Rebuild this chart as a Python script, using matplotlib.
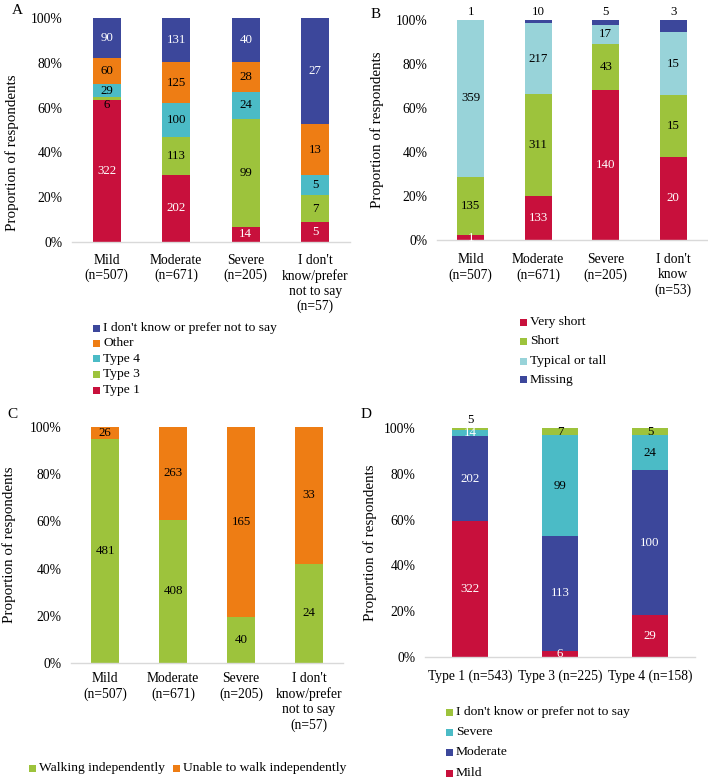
import matplotlib
matplotlib.use("Agg")
import matplotlib.pyplot as plt
from matplotlib.patches import Rectangle
from matplotlib.ticker import PercentFormatter
import numpy as np

W, H = 708, 782
plt.rcParams['font.family'] = ['Liberation Serif', 'DejaVu Serif']

RED = '#C8103C'
GREEN = '#9DC33C'
CYAN = '#4BBBC6'
ORANGE = '#EE7D14'
NAVY = '#3C479B'
LCYAN = '#98D3D9'

# ---------------- Data ----------------
# Panel A: SMA type by severity
A_categories = ["Mild\n(n=507)", "Moderate\n(n=671)", "Severe\n(n=205)",
                "I don't\nknow/prefer\nnot to say\n(n=57)"]
A_type1 = [322, 202, 14, 5]
A_type3 = [6, 113, 99, 7]
A_type4 = [29, 100, 24, 5]
A_other = [60, 125, 28, 13]
A_unknown = [90, 131, 40, 27]
A_names = ["Type 1", "Type 3", "Type 4", "Other", "I don't know or prefer not to say"]

# Panel B: height by severity
B_categories = ["Mild\n(n=507)", "Moderate\n(n=671)", "Severe\n(n=205)",
                "I don't\nknow\n(n=53)"]
B_very_short = [11, 133, 140, 20]
B_very_short_text = ["1", "133", "140", "20"]
B_short = [135, 311, 43, 15]
B_typical = [359, 217, 17, 15]
B_missing = [1, 10, 5, 3]
B_names = ["Very short", "Short", "Typical or tall", "Missing"]

# Panel C: walking by severity
C_categories = A_categories
C_walking = [481, 408, 40, 24]
C_unable = [26, 263, 165, 33]
C_names = ["Walking independently", "Unable to walk independently"]

# Panel D: severity by SMA type
D_categories = ["Type 1 (n=543)", "Type 3 (n=225)", "Type 4 (n=158)"]
D_mild = [322, 6, 29]
D_moderate = [202, 113, 100]
D_severe = [14, 99, 24]
D_unknown = [5, 7, 5]
D_names = ["Mild", "Moderate", "Severe", "I don't know or prefer not to say"]

fig = plt.figure(figsize=(W / 100, H / 100), dpi=100)


def axes_px(left, right, top, bottom):
    return fig.add_axes([left / W, 1 - bottom / H, (right - left) / W, (bottom - top) / H])


def stacked(ax, cats, series, colors, txtcolors, texts=None, above=(), xpad=5,
            overrides=None, shifts=None):
    series = [np.asarray(s, dtype=float) for s in series]
    totals = np.sum(series, axis=0)
    x = np.arange(len(cats))
    bottom = np.zeros(len(cats))
    for i, vals in enumerate(series):
        frac = vals / totals
        ax.bar(x, frac, 0.4, bottom=bottom, color=colors[i], linewidth=0)
        for j in range(len(cats)):
            t = texts[i][j] if texts is not None and texts[i] is not None else str(int(vals[j]))
            col = txtcolors[i]
            if overrides and (i, j) in overrides:
                col = overrides[(i, j)]
            if (i, j) in above:
                ax.annotate(t, xy=(x[j], 1.0), xytext=(0, 5.5), textcoords='offset points',
                            ha='center', va='center', fontsize=9.3, color='black')
            else:
                dy = shifts.get((i, j), 0) if shifts else 0
                ax.annotate(t, xy=(x[j], bottom[j] + frac[j] / 2), xytext=(0, dy),
                            textcoords='offset points', ha='center', va='center',
                            fontsize=9.3, color=col)
        bottom = bottom + frac
    ax.set_xlim(-0.5, len(cats) - 0.5)
    ax.set_ylim(0, 1)
    ax.set_yticks(np.linspace(0, 1, 6))
    ax.yaxis.set_major_formatter(PercentFormatter(1.0, decimals=0))
    ax.set_xticks(x)
    ax.set_xticklabels(cats, fontsize=9.8)
    for s in ['top', 'right', 'left']:
        ax.spines[s].set_visible(False)
    ax.spines['bottom'].set_color('#D9D9D9')
    ax.spines['bottom'].set_linewidth(1.0)
    ax.tick_params(axis='y', length=0, labelsize=9.8, pad=7)
    ax.tick_params(axis='x', length=0, labelsize=9.8, pad=xpad)
    ax.set_ylabel('Proportion of respondents', fontsize=10.8)
    ax.set_axisbelow(True)


def label_coords(ax, left_px, right_px, x_px, yfrac):
    ax.yaxis.set_label_coords((x_px - left_px) / (right_px - left_px), yfrac)


def legend_px(entries, positions, size=7, gap=3, fontsize=9.7):
    for (name, color), (xm, yc) in zip(entries, positions):
        fig.patches.append(Rectangle((xm / W, 1 - (yc + size / 2) / H), size / W, size / H,
                                     transform=fig.transFigure, facecolor=color,
                                     linewidth=0, figure=fig))
        fig.text((xm + size + gap) / W, 1 - yc / H, name, ha='left', va='center',
                 fontsize=fontsize)


# ---------------- Panel A ----------------
axA = axes_px(72, 350, 18, 242)
stacked(axA, A_categories, [A_type1, A_type3, A_type4, A_other, A_unknown],
        [RED, GREEN, CYAN, ORANGE, NAVY], ['white', 'black', 'black', 'black', 'white'],
        xpad=8.5, shifts={(1, 0): -4.5})
label_coords(axA, 72, 350, 19, 0.40)
fig.text(12 / W, 1 - 10 / H, "A", fontsize=11, ha='left', va='center')
legend_px([(A_names[4], NAVY), (A_names[3], ORANGE), (A_names[2], CYAN),
           (A_names[1], GREEN), (A_names[0], RED)],
          [(93, 328), (93, 343), (93, 359), (93, 374), (93, 390)])

# ---------------- Panel B ----------------
axB = axes_px(437, 707, 20, 240)
stacked(axB, B_categories, [B_very_short, B_short, B_typical, B_missing],
        [RED, GREEN, LCYAN, NAVY], ['white', 'black', 'black', 'black'],
        texts=[B_very_short_text, None, None, None],
        above={(3, 0), (3, 1), (3, 2), (3, 3)}, xpad=9.5)
label_coords(axB, 437, 707, 384, 0.5)
fig.text(371 / W, 1 - 15 / H, "B", fontsize=11, ha='left', va='center')
legend_px([(B_names[0], RED), (B_names[1], GREEN), (B_names[2], LCYAN), (B_names[3], NAVY)],
          [(520, 322), (520, 341), (520, 361), (520, 380)])

# ---------------- Panel C ----------------
axC = axes_px(71, 343, 427, 663)
stacked(axC, C_categories, [C_walking, C_unable], [GREEN, ORANGE], ['black', 'black'],
        xpad=6.5)
label_coords(axC, 71, 343, 16, 0.5)
fig.text(7 / W, 1 - 415 / H, "C", fontsize=11, ha='left', va='center')
legend_px([(C_names[0], GREEN), (C_names[1], ORANGE)], [(29, 768), (173, 768)])

# ---------------- Panel D ----------------
axD = axes_px(425, 695, 428, 657)
stacked(axD, D_categories, [D_mild, D_moderate, D_severe, D_unknown],
        [RED, NAVY, CYAN, GREEN], ['white', 'white', 'black', 'black'],
        above={(3, 0)}, overrides={(2, 0): 'white'}, xpad=9)
label_coords(axD, 425, 695, 377, 0.5)
fig.text(361 / W, 1 - 415 / H, "D", fontsize=11, ha='left', va='center')
legend_px([(D_names[3], GREEN), (D_names[2], CYAN), (D_names[1], NAVY), (D_names[0], RED)],
          [(446, 712), (446, 732), (446, 752), (446, 773)])

fig.savefig("out.png", dpi=100)
